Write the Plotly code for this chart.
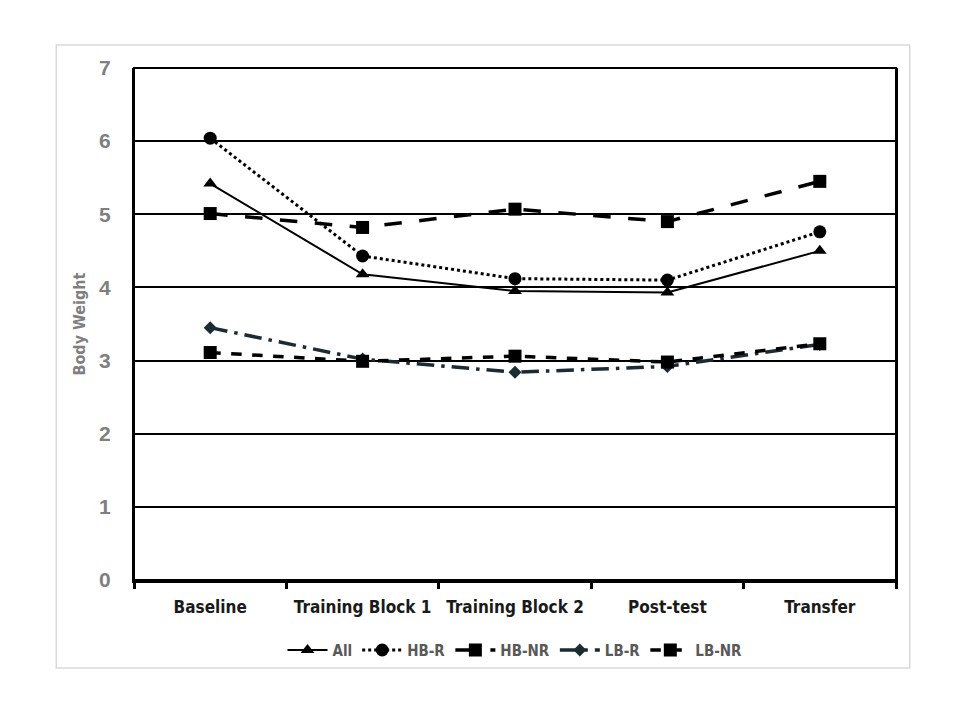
import plotly.graph_objects as go

categories = ["Baseline", "Training Block 1", "Training Block 2", "Post-test", "Transfer"]
all_vals = [5.42, 4.18, 3.95, 3.93, 4.50]
hbr_vals = [6.04, 4.43, 4.12, 4.10, 4.76]
hbnr_vals = [5.01, 4.82, 5.07, 4.90, 5.45]
lbr_vals = [3.45, 3.02, 2.84, 2.92, 3.22]
lbnr_vals = [3.11, 2.99, 3.06, 2.98, 3.23]

NARROW = "DejaVu Sans Condensed, Liberation Sans Narrow, Arial Narrow, sans-serif"

fig = go.Figure()

def add(name, vals, dash, width, symbol, size, color="black"):
    fig.add_trace(go.Scatter(
        x=categories, y=vals, name=name, mode="lines+markers",
        line=dict(color=color, width=width, dash=dash),
        marker=dict(symbol=symbol, size=size, color=color),
    ))

add("All", all_vals, "solid", 2, "triangle-up", 12)
add("HB-R", hbr_vals, "dot", 3, "circle", 13)
add("HB-NR", hbnr_vals, "longdash", 3.5, "square", 13)
add("LB-R", lbr_vals, "longdashdot", 3.5, "diamond", 10, "#1b2b34")
add("LB-NR", lbnr_vals, "dash", 3.5, "square", 13)

fig.update_layout(
    width=960, height=720,
    paper_bgcolor="white", plot_bgcolor="white",
    margin=dict(l=126, r=72, t=60, b=148),
    showlegend=True,
    legend=dict(orientation="h", x=0.5, xanchor="center", y=-0.105, yanchor="top",
                font=dict(family=NARROW, size=15, color="#595959", weight="bold"),
                itemwidth=40, tracegroupgap=0),
    shapes=[dict(type="rect", xref="paper", yref="paper", x0=-0.102, x1=1.018,
                 y0=-0.172, y1=1.045, line=dict(color="#d9d9d9", width=1.5))],
)

fig.update_xaxes(
    type="category", showline=True, linecolor="black", linewidth=3, mirror=False,
    ticks="outside", tickson="boundaries", ticklen=6, tickwidth=3, tickcolor="black",
    showgrid=False, range=[-0.5, 4.5], ticklabelstandoff=10,
    tickfont=dict(family=NARROW, size=17, color="#1a1a1a", weight="bold"),
)
fig.update_yaxes(
    range=[0, 7], dtick=1, showgrid=True, gridcolor="black", gridwidth=1.5,
    showline=True, linecolor="black", linewidth=2, mirror=True, ticks="",
    zeroline=False, ticklabelstandoff=17,
    tickfont=dict(family="Liberation Sans, Arial, sans-serif", size=21, color="#7f7f7f",
                  weight="bold"),
    title=dict(text="Body Weight", standoff=10,
               font=dict(family=NARROW, size=16, color="#7f7f7f", weight="bold")),
)
fig.add_shape(type="rect", xref="paper", yref="paper", x0=0, x1=1, y0=0, y1=1,
              line=dict(color="black", width=2), layer="below")

fig.write_html("out.html")
